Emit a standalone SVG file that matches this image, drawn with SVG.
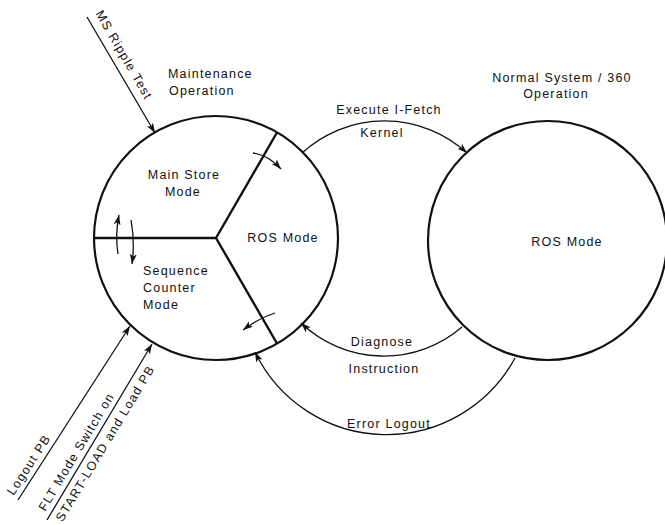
<svg xmlns="http://www.w3.org/2000/svg" width="665" height="525" viewBox="0 0 665 525">
<style>
text{font-family:"Liberation Sans",Arial,sans-serif;font-size:12.5px;letter-spacing:1.2px;fill:#111}
.m{text-anchor:middle}
.node{fill:none;stroke:#111;stroke-width:2.2}
.div{fill:none;stroke:#111;stroke-width:2.4}
.c{fill:none;stroke:#111;stroke-width:1.3}
.a{marker-end:url(#ah)}
</style>
<defs>
<marker id="ah" markerUnits="userSpaceOnUse" markerWidth="12" markerHeight="8" refX="10" refY="3.5" orient="auto">
<path d="M0,0 L10,3.5 L0,7 L2.5,3.5 z" fill="#111"/>
</marker>
</defs>
<rect width="665" height="525" fill="#fff"/>
<g id="maintenance">
<circle class="node" cx="216" cy="238" r="122"/>
<path class="div" d="M216,238 L94,238 M216,238 L277,132.5 M216,238 L277,343.5"/>
<text x="168" y="77.5">Maintenance</text>
<text x="169" y="95">Operation</text>
<g id="main-store">
<text class="m" x="184" y="179">Main Store</text>
<text class="m" x="183" y="196">Mode</text>
</g>
<g id="ros-mode-m">
<text class="m" x="283" y="242">ROS Mode</text>
</g>
<g id="seq-counter">
<text x="143" y="275">Sequence</text>
<text x="143" y="292">Counter</text>
<text x="143" y="309">Mode</text>
</g>
</g>
<g id="normal">
<circle class="node" cx="547.5" cy="240.5" r="119.5"/>
<text class="m" x="562" y="82">Normal System / 360</text>
<text class="m" x="556" y="98">Operation</text>
<text class="m" x="567" y="246">ROS Mode</text>
</g>
<g id="connectors">
<path class="c a" d="M302,153 A122,122 0 0 1 467,153"/>
<path class="c a" d="M462,327 A120,120 0 0 1 301,323"/>
<path class="c a" d="M515,358 A146,146 0 0 1 255,352"/>
<path class="c a" d="M87,17 L155,133"/>
<path class="c a" d="M18,500 L130,326"/>
<path class="c a" d="M47,520 L152,344"/>
<path class="c a" d="M253,153 Q268,155 281,169"/>
<path class="c a" d="M275,313 Q259,318 243,330"/>
<path class="c a" d="M118,254 Q115,235 119,215"/>
<path class="c a" d="M131,220 Q135,242 132,264"/>
<text class="m" x="389" y="114">Execute I-Fetch</text>
<text class="m" x="382" y="137">Kernel</text>
<text class="m" x="382" y="345.5">Diagnose</text>
<text class="m" x="384" y="372.5">Instruction</text>
<text class="m" x="389" y="428">Error Logout</text>
<text transform="translate(95.2,13.6) rotate(60)">MS Ripple Test</text>
<text transform="translate(13.6,496) rotate(-57)">Logout PB</text>
<text transform="translate(45.2,511.9) rotate(-59)">FLT Mode Switch on</text>
<text transform="translate(62.6,522.4) rotate(-59)">START-LOAD and Load PB</text>
</g>
</svg>
